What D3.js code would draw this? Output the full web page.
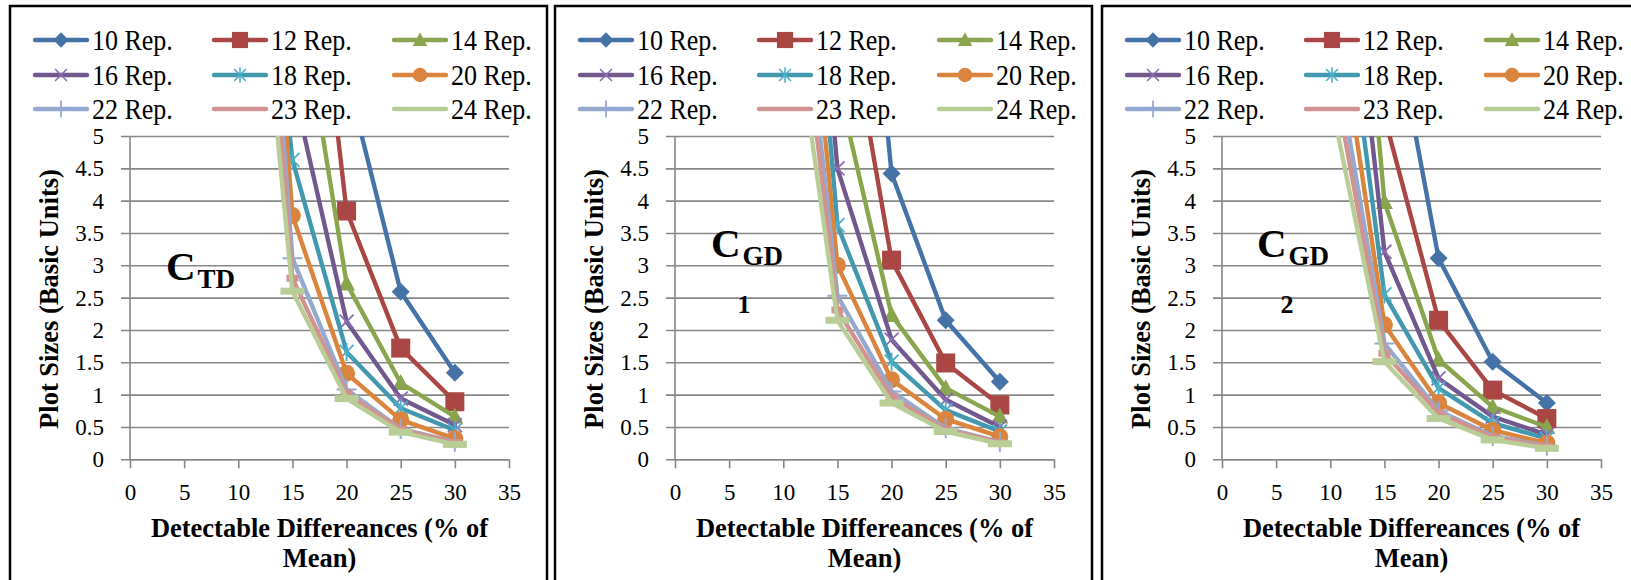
<!DOCTYPE html>
<html>
<head>
<meta charset="utf-8">
<script src="https://cdn.jsdelivr.net/npm/d3@7"></script>
<style>
  body { margin: 0; background: #fff; }
  svg { display: block; }
  text { font-family: "Liberation Serif", "Times New Roman", serif; fill: #000; }
</style>
</head>
<body>
<svg id="chart" width="1631" height="580"></svg>
<script>
// detectable difference (% of mean)
const xValues = [10, 15, 20, 25, 30];
const seriesNames = ["10 Rep.", "12 Rep.", "14 Rep.", "16 Rep.", "18 Rep.", "20 Rep.", "22 Rep.", "23 Rep.", "24 Rep."];
const xTicks = [0, 5, 10, 15, 20, 25, 30, 35];
const yTicks = [0, 0.5, 1, 1.5, 2, 2.5, 3, 3.5, 4, 4.5, 5];

// plot sizes, one row per series (null = off the chart, not readable)
const ctdValues = [
  [null, null, 5.94, 2.59, 1.34],
  [null, 11.1, 3.84, 1.72, 0.89],
  [null, 7.9, 2.72, 1.18, 0.66],
  [null, 5.81, 2.13, 0.94, 0.53],
  [12.3, 4.63, 1.66, 0.79, 0.45],
  [15.0, 3.77, 1.33, 0.61, 0.32],
  [14.1, 3.11, 1.08, 0.47, 0.27],
  [13.1, 2.80, 1.02, 0.46, 0.26],
  [11.3, 2.60, 0.94, 0.42, 0.23]
];
const cgd1Values = [
  [null, 13.0, 4.42, 2.15, 1.20],
  [null, 7.9, 3.08, 1.49, 0.84],
  [null, 5.83, 2.23, 1.10, 0.66],
  [14.0, 4.50, 1.85, 0.92, 0.50],
  [13.5, 3.62, 1.51, 0.76, 0.43],
  [11.7, 3.00, 1.23, 0.62, 0.35],
  [10.2, 2.53, 1.05, 0.48, 0.27],
  [9.4, 2.31, 0.97, 0.46, 0.26],
  [8.1, 2.15, 0.87, 0.43, 0.24]
];
const cgd2Values = [
  [null, 7.6, 3.11, 1.51, 0.87],
  [null, 5.3, 2.15, 1.07, 0.63],
  [13.5, 3.98, 1.54, 0.81, 0.50],
  [10.8, 3.21, 1.25, 0.66, 0.38],
  [9.0, 2.55, 1.10, 0.56, 0.32],
  [7.7, 2.08, 0.87, 0.45, 0.25],
  [6.7, 1.79, 0.75, 0.36, 0.21],
  [6.2, 1.64, 0.72, 0.34, 0.20],
  [5.6, 1.51, 0.63, 0.30, 0.17]
];

const colors = ["#4572A7", "#AA4643", "#89A54E", "#71588F", "#4198AF", "#DB843D", "#93A9CF", "#D19392", "#B9CD96"];
const markers = ["diamond", "square", "triangle", "x", "star", "circle", "plus", "dash", "longdash"];

const svg = d3.select("#chart");

function drawMarker(g, type, color, cx, cy, k) {
  const m = g.append("g").attr("transform", `translate(${cx},${cy}) scale(${k})`);
  if (type === "diamond") {
    m.append("path").attr("d", "M0,-9L9,0L0,9L-9,0Z").attr("fill", color);
  } else if (type === "square") {
    m.append("rect").attr("x", -9.5).attr("y", -9.5).attr("width", 19).attr("height", 19).attr("fill", color);
  } else if (type === "triangle") {
    m.append("path").attr("d", "M0,-9L8.5,7L-8.5,7Z").attr("fill", color);
  } else if (type === "x") {
    m.append("path").attr("d", "M-7,-7L7,7M-7,7L7,-7").attr("stroke", d3.color(color).brighter(0.6)).attr("stroke-width", 1.8);
  } else if (type === "star") {
    m.append("path").attr("d", "M-7,-7L7,7M-7,7L7,-7M0,-9L0,9").attr("stroke", d3.color(color).brighter(0.4)).attr("stroke-width", 1.8);
  } else if (type === "circle") {
    m.append("circle").attr("r", 8.5).attr("fill", color);
  } else if (type === "plus") {
    m.append("path").attr("d", "M-10,0L10,0M0,-10L0,10").attr("stroke", color).attr("stroke-width", 2);
  } else if (type === "dash") {
    m.append("rect").attr("x", -6).attr("y", -3.5).attr("width", 12).attr("height", 7).attr("fill", color);
  } else if (type === "longdash") {
    m.append("rect").attr("x", -12).attr("y", -3.5).attr("width", 24).attr("height", 7).attr("fill", color);
  }
}

function drawPanel(offsetX, values, tag, idx) {
  const g = svg.append("g").attr("transform", `translate(${offsetX},0)`);

  g.append("rect")
    .attr("x", 10).attr("y", 6)
    .attr("width", 537).attr("height", 600)
    .attr("fill", "none").attr("stroke", "#000").attr("stroke-width", 2.5);

  const x = d3.scaleLinear().domain([0, 35]).range([130, 509]);
  const y = d3.scaleLinear().domain([0, 5]).range([459.3, 136]);

  // gridlines + y labels
  const yAxis = g.append("g")
    .attr("transform", `translate(${x(0) - 9},0)`)
    .call(d3.axisLeft(y).tickValues(yTicks).tickFormat(d => String(d))
      .tickSize(-(x(35) - x(0) + 9)).tickPadding(17));
  yAxis.select(".domain").remove();
  yAxis.selectAll(".tick line").attr("stroke", "#878787").attr("stroke-width", 1.6);
  yAxis.selectAll(".tick text").attr("font-size", 23);

  g.append("line")
    .attr("x1", x(0)).attr("x2", x(0)).attr("y1", y(5)).attr("y2", y(0))
    .attr("stroke", "#878787").attr("stroke-width", 1.6);

  const xAxis = g.append("g")
    .attr("transform", `translate(0,${y(0)})`)
    .call(d3.axisBottom(x).tickValues(xTicks).tickSize(9).tickSizeOuter(0).tickPadding(15));
  xAxis.select(".domain").attr("stroke", "#878787").attr("stroke-width", 1.6);
  xAxis.selectAll(".tick line").attr("stroke", "#878787").attr("stroke-width", 1.6);
  xAxis.selectAll(".tick text").attr("font-size", 23);

  // clip
  const clipId = "clip" + idx;
  g.append("clipPath").attr("id", clipId)
    .append("rect").attr("x", x(0)).attr("y", y(5))
    .attr("width", x(35) - x(0)).attr("height", y(0) - y(5) + 20);

  const line = d3.line()
    .defined(d => d[1] !== null)
    .x(d => x(d[0]))
    .y(d => y(d[1]));

  values.forEach((row, i) => {
    const pts = row.map((v, j) => [xValues[j], v]);
    g.append("path")
      .attr("d", line(pts))
      .attr("fill", "none")
      .attr("stroke", colors[i])
      .attr("stroke-width", 4.4)
      .attr("stroke-linejoin", "round")
      .attr("stroke-linecap", "round")
      .attr("clip-path", `url(#${clipId})`);
    pts.filter(p => p[1] !== null && p[1] <= 5).forEach(p => {
      drawMarker(g, markers[i], colors[i], x(p[0]), y(p[1]), 1);
    });
  });

  // legend
  const colX = [35, 214, 394];
  const rowY = [40, 75, 109];
  seriesNames.forEach((name, i) => {
    const cx = colX[i % 3], cy = rowY[Math.floor(i / 3)];
    g.append("line")
      .attr("x1", cx).attr("x2", cx + 52).attr("y1", cy).attr("y2", cy)
      .attr("stroke", colors[i]).attr("stroke-width", 4.4).attr("stroke-linecap", "round");
    if (markers[i] !== "dash" && markers[i] !== "longdash") {
      drawMarker(g, markers[i], colors[i], cx + 26, cy, 0.85);
    }
    g.append("text")
      .attr("transform", `translate(${cx + 57},${cy}) scale(1,1.13)`)
      .attr("dy", "0.34em")
      .attr("font-size", 26)
      .text(name);
  });

  // axis titles
  g.append("text")
    .attr("transform", "translate(49,299) rotate(-90)")
    .attr("text-anchor", "middle").attr("dy", "0.35em")
    .attr("font-size", 26.5).attr("font-weight", "bold")
    .text("Plot Sizes (Basic Units)");
  g.append("text")
    .attr("x", (x(0) + x(35)) / 2).attr("y", 536.5)
    .attr("text-anchor", "middle").attr("font-size", 26.5).attr("font-weight", "bold")
    .text("Detectable Differeances (% of");
  g.append("text")
    .attr("x", (x(0) + x(35)) / 2).attr("y", 566.5)
    .attr("text-anchor", "middle").attr("font-size", 26.5).attr("font-weight", "bold")
    .text("Mean)");

  // coefficient label
  const t = g.append("text").attr("x", tag.x).attr("y", tag.y).attr("font-weight", "bold");
  t.append("tspan").attr("font-size", 41).text("C");
  t.append("tspan").attr("font-size", 27).attr("dy", 8).attr("dx", 2).text(tag.sub);
  if (tag.num) {
    g.append("text")
      .attr("x", tag.numX).attr("y", 313)
      .attr("text-anchor", "middle").attr("font-size", 26).attr("font-weight", "bold")
      .text(tag.num);
  }
}

drawPanel(0, ctdValues, { x: 166, y: 280, sub: "TD" }, 0);
drawPanel(545, cgd1Values, { x: 166, y: 257, sub: "GD", num: "1", numX: 199 }, 1);
drawPanel(1092, cgd2Values, { x: 165, y: 257, sub: "GD", num: "2", numX: 195 }, 2);
</script>
</body>
</html>
